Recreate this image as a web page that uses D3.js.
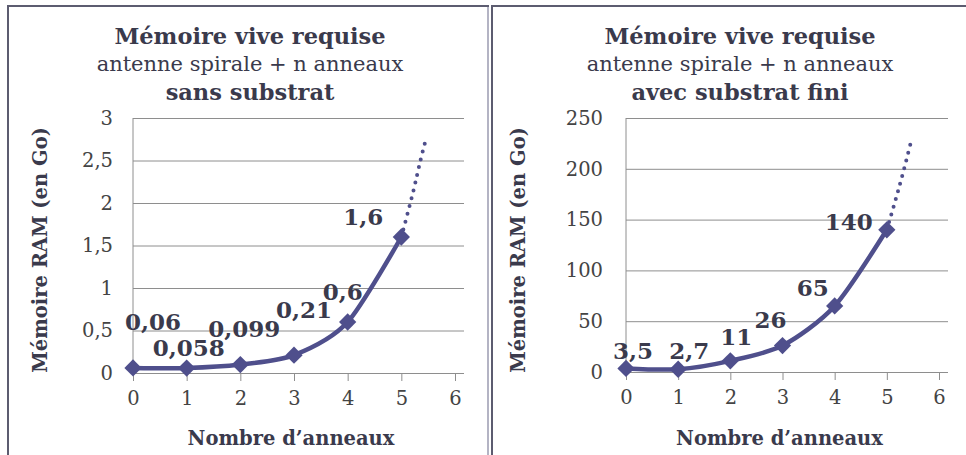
<!DOCTYPE html>
<html>
<head>
<meta charset="utf-8">
<script src="https://cdn.jsdelivr.net/npm/d3@7"></script>
<style>
  body { margin: 0; background: #ffffff; }
  text { font-family: "DejaVu Serif", "Liberation Serif", serif; }
</style>
</head>
<body>
<div id="container"></div>
<script>
/* DATA */
const rings = [0, 1, 2, 3, 4, 5];
const xTicks = [0, 1, 2, 3, 4, 5, 6];

const ramSans = [0.06, 0.058, 0.099, 0.21, 0.6, 1.6];
const labelsSans = ["0,06", "0,058", "0,099", "0,21", "0,6", "1,6"];
const yTicksSans = [0, 0.5, 1, 1.5, 2, 2.5, 3];
const trendXSans = [5, 5.22, 5.36, 5.47];
const trendYSans = [1.6, 2.13, 2.51, 2.78];

const ramAvec = [3.5, 2.7, 11, 26, 65, 140];
const labelsAvec = ["3,5", "2,7", "11", "26", "65", "140"];
const yTicksAvec = [0, 50, 100, 150, 200, 250];
const trendXAvec = [5, 5.17, 5.29, 5.45];
const trendYAvec = [140, 170, 192, 224];

/* CONSTANTS */
const width = 966;
const height = 455;
const lineColor = "#4f4f8c";
const textColor = "#3a3a4c";
const gridColor = "#8e8e8e";

// label nudges in px (layout only), [dx, dy] from the marker
const nudgeSans = [[20, -46], [2, -20], [4, -36], [10, -45], [-5, -30], [-38, -20]];
const nudgeAvec = [[7, -17], [11, -18], [6, -24], [-12, -26], [-22, -18], [-38, -8]];

const svg = d3.select("#container")
  .append("svg")
  .attr("width", width)
  .attr("height", height)
  .style("background-color", "#ffffff");

const fmt = v => String(v).replace(".", ",");

function drawPanel(opt) {
  const g = svg.append("g");

  // frame
  g.append("rect")
    .attr("x", opt.frame[0]).attr("y", opt.frame[1])
    .attr("width", opt.frame[2]).attr("height", opt.frame[3])
    .attr("fill", "none")
    .attr("stroke", "#5c5c70")
    .attr("stroke-width", 2);
  if (opt.lightRight) {
    g.append("line")
      .attr("x1", opt.frame[0] + opt.frame[2]).attr("x2", opt.frame[0] + opt.frame[2])
      .attr("y1", opt.frame[1] + 1).attr("y2", height)
      .attr("stroke", "#b4b4c4").attr("stroke-width", 2);
  }

  /* SCALES */
  const xScale = d3.scaleLinear().domain([0, 6]).range(opt.xRange);
  const yScale = d3.scaleLinear().domain(opt.yDomain).range(opt.yRange);
  const plotW = opt.xRange[1] - opt.xRange[0];

  // titles
  const cx = opt.titleX;
  g.append("text").attr("x", cx).attr("y", 44)
    .attr("text-anchor", "middle").attr("font-weight", "bold")
    .attr("font-size", 22.5).attr("fill", textColor)
    .text("Mémoire vive requise");
  g.append("text").attr("x", cx).attr("y", 71)
    .attr("text-anchor", "middle")
    .attr("font-size", 21).attr("fill", textColor)
    .text("antenne spirale + n anneaux");
  g.append("text").attr("x", cx).attr("y", 100)
    .attr("text-anchor", "middle").attr("font-weight", "bold")
    .attr("font-size", 22.5).attr("fill", textColor)
    .text(opt.subtitle);

  // gridlines + y labels
  const yAxis = d3.axisLeft(yScale)
    .tickValues(opt.yTicks)
    .tickSize(-plotW - 9)
    .tickFormat(fmt);
  g.append("g")
    .attr("class", "y-axis")
    .attr("transform", `translate(${opt.xRange[1]},0)`)
    .call(yAxis)
    .call(s => s.select(".domain").remove())
    .call(s => s.selectAll(".tick line").attr("stroke", gridColor).attr("transform", `translate(${-plotW},0)`))
    .call(s => s.selectAll(".tick text")
      .attr("x", -plotW - opt.tickGap)
      .attr("font-size", 19.5).attr("fill", "#444")
      .attr("font-family", "DejaVu Serif"));

  // vertical axis line
  g.append("line")
    .attr("x1", xScale(0)).attr("x2", xScale(0))
    .attr("y1", yScale(opt.yDomain[1])).attr("y2", yScale(0))
    .attr("stroke", gridColor);

  // x axis
  g.append("g")
    .attr("class", "x-axis")
    .attr("transform", `translate(0,${yScale(0)})`)
    .call(d3.axisBottom(xScale).tickValues(xTicks).tickFormat(d3.format("d"))
      .tickSize(8).tickSizeOuter(0).tickPadding(10))
    .call(s => s.select(".domain").attr("stroke", gridColor))
    .call(s => s.selectAll(".tick line").attr("stroke", gridColor))
    .call(s => s.selectAll(".tick text")
      .attr("font-size", 19.5).attr("fill", "#444")
      .attr("font-family", "DejaVu Serif"));

  // axis titles
  g.append("text")
    .attr("x", (xScale(0) + xScale(6)) / 2 - 3).attr("y", 445)
    .attr("text-anchor", "middle").attr("font-weight", "bold")
    .attr("font-size", 19.5).attr("fill", textColor)
    .text("Nombre d’anneaux");
  g.append("text")
    .attr("transform", `translate(${opt.yTitleX},${250}) rotate(-90)`)
    .attr("text-anchor", "middle").attr("font-weight", "bold")
    .attr("font-size", 19.5).attr("fill", textColor)
    .text("Mémoire RAM (en Go)");

  // trend extension (dotted)
  const trend = opt.trendX.map((x, i) => [x, opt.trendY[i]]);
  g.append("path")
    .datum(trend)
    .attr("fill", "none")
    .attr("stroke", lineColor)
    .attr("stroke-width", 4)
    .attr("stroke-linecap", "round")
    .attr("stroke-dasharray", "0 8")
    .attr("d", d3.line().x(d => xScale(d[0])).y(d => yScale(d[1])).curve(d3.curveCatmullRom));

  // smoothed series
  const pts = rings.map((r, i) => [r, opt.values[i]]);
  g.append("path")
    .datum(pts)
    .attr("fill", "none")
    .attr("stroke", lineColor)
    .attr("stroke-width", 4.5)
    .attr("d", d3.line().x(d => xScale(d[0])).y(d => yScale(d[1])).curve(d3.curveCardinal.tension(0.2)));

  // diamond markers
  g.selectAll(".marker")
    .data(pts)
    .join("path")
    .attr("class", "marker")
    .attr("transform", d => `translate(${xScale(d[0])},${yScale(d[1])})`)
    .attr("d", d3.symbol(d3.symbolDiamond2, 190))
    .attr("fill", lineColor);

  // data labels
  g.selectAll(".lbl")
    .data(pts)
    .join("text")
    .attr("class", "lbl")
    .attr("x", (d, i) => xScale(d[0]) + opt.nudge[i][0])
    .attr("y", (d, i) => yScale(d[1]) + opt.nudge[i][1] + 8)
    .attr("text-anchor", "middle")
    .attr("font-weight", "bold")
    .attr("font-size", 23)
    .attr("fill", textColor)
    .text((d, i) => opt.labels[i]);
}

drawPanel({
  frame: [8, 6, 480, 460],
  lightRight: true,
  titleX: 250,
  subtitle: "sans substrat",
  xRange: [133, 455],
  yDomain: [0, 3],
  yRange: [373, 118],
  yTicks: yTicksSans,
  tickGap: 20,
  yTitleX: 47,
  values: ramSans,
  labels: labelsSans,
  nudge: nudgeSans,
  trendX: trendXSans,
  trendY: trendYSans
});

drawPanel({
  frame: [492, 6, 490, 460],
  titleX: 740,
  subtitle: "avec substrat fini",
  xRange: [626, 939],
  yDomain: [0, 250],
  yRange: [372, 118],
  yTicks: yTicksAvec,
  tickGap: 23,
  yTitleX: 525,
  values: ramAvec,
  labels: labelsAvec,
  nudge: nudgeAvec,
  trendX: trendXAvec,
  trendY: trendYAvec
});
</script>
</body>
</html>
